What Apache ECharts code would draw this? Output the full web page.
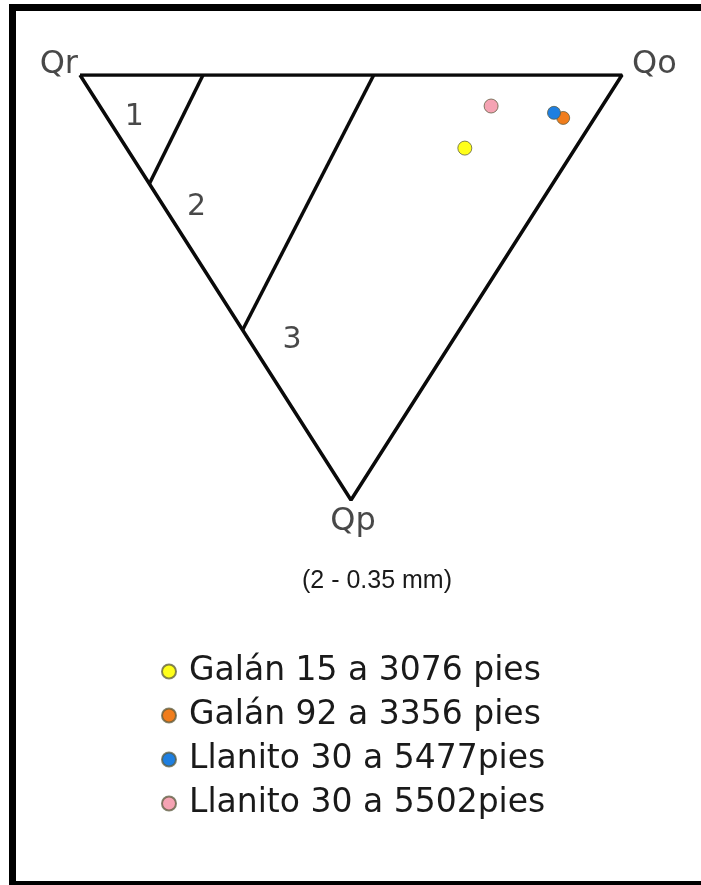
<!DOCTYPE html>
<html>
<head>
<meta charset="utf-8">
<script src="https://cdn.jsdelivr.net/npm/echarts@6/dist/echarts.min.js"></script>
<style>
  html, body { margin: 0; padding: 0; background: #fff; }
  #chart { width: 701px; height: 885px; }
</style>
</head>
<body>
<div id="chart"></div>
<script>
// Ternary components are given as [Qr, Qo, Qp] in percent.
const vertexNames = ['Qr', 'Qo', 'Qp'];
const vertices = [[100, 0, 0], [0, 100, 0], [0, 0, 100]];

// Field boundaries inside the diagram
const fieldLineA = [[77.3, 22.7, 0], [74.4, 0, 25.6]];
const fieldLineB = [[45.8, 54.2, 0], [40.0, 0, 60.0]];

// Field numbers and where they sit
const fieldNames = ['1', '2', '3'];
const fieldPos = [[85.0, 5.0, 10.0], [63.0, 6.0, 31.0], [29.7, 7.9, 62.4]];

// Samples
const sampleNames = [
  'Galán 15 a 3076 pies',
  'Galán 92 a 3356 pies',
  'Llanito 30 a 5477pies',
  'Llanito 30 a 5502pies'
];
const sampleQr = [20.4, 5.8, 8.1, 20.5];
const sampleQo = [62.4, 84.1, 83.0, 72.2];
const sampleQp = [17.2, 10.1, 8.9, 7.3];
const sampleColors = ['#ffff1a', '#f07d1c', '#1f7fe0', '#f5a3b3'];
const sampleSizes = [14, 13, 13, 14];

const sizeLabel = '(2 - 0.35 mm)';

// Ternary -> cartesian (x across the top edge, y downward towards Qp)
function toXY(t) {
  const s = t[0] + t[1] + t[2];
  const qo = t[1] / s * 100, qp = t[2] / s * 100;
  return [qo + qp / 2, qp];
}

const lineStyle = { color: '#0a0a0a', width: 3.5 };
const series = [];

series.push({
  type: 'line', name: 'outline', data: vertices.concat([vertices[0]]).map(toXY),
  symbol: 'none', lineStyle: lineStyle, silent: true, z: 2, animation: false
});
[fieldLineA, fieldLineB].forEach(function (seg, i) {
  series.push({
    type: 'line', name: 'field' + i, data: seg.map(toXY),
    symbol: 'none', lineStyle: lineStyle, silent: true, z: 2, animation: false
  });
});

// Vertex names
const vLabelCfg = [
  { position: 'left', distance: 2, offset: [0, -10] },
  { position: 'right', distance: 10, offset: [0, -10] },
  { position: 'bottom', distance: 6, offset: [2, 0] }
];
series.push({
  type: 'scatter', name: 'vertices', symbolSize: 0, silent: true, animation: false,
  data: vertices.map(function (v, i) {
    return {
      value: toXY(v), name: vertexNames[i],
      label: Object.assign({
        show: true, formatter: '{b}', color: '#1a1a1a',
        fontFamily: 'DejaVu Sans', fontSize: 32
      }, vLabelCfg[i])
    };
  })
});

// Field numbers
series.push({
  type: 'scatter', name: 'fields', symbolSize: 0, silent: true, animation: false,
  data: fieldPos.map(function (p, i) {
    return {
      value: toXY(p), name: fieldNames[i],
      label: {
        show: true, position: 'inside', formatter: '{b}', color: '#1a1a1a',
        fontFamily: 'DejaVu Sans', fontSize: 30
      }
    };
  })
});

// Sample points
sampleNames.forEach(function (name, i) {
  series.push({
    type: 'scatter', name: name, symbol: 'circle', symbolSize: sampleSizes[i],
    data: [toXY([sampleQr[i], sampleQo[i], sampleQp[i]])],
    itemStyle: { color: sampleColors[i], borderColor: 'rgba(90,90,60,0.75)', borderWidth: 1, opacity: 1 },
    z: 5 + i, animation: false
  });
});

const chart = echarts.init(document.getElementById('chart'));
chart.setOption({
  backgroundColor: '#fff',
  animation: false,
  grid: { left: 80, top: 75, width: 542, height: 425 },
  xAxis: { type: 'value', min: 0, max: 100, show: false },
  yAxis: { type: 'value', min: 0, max: 100, inverse: true, show: false },
  title: {
    text: sizeLabel, left: 297, top: 564,
    textStyle: { fontFamily: 'Liberation Sans', fontSize: 25, fontWeight: 'normal', color: '#1a1a1a' }
  },
  legend: {
    data: sampleNames, orient: 'vertical', left: 156, top: 650,
    icon: 'circle', itemWidth: 14, itemHeight: 14, itemGap: 11,
    formatter: function (n) { return '{t|' + n + '}'; },
    textStyle: {
      color: '#1a1a1a', fontFamily: 'DejaVu Sans', fontSize: 33,
      rich: { t: { fontFamily: 'DejaVu Sans', fontSize: 33, color: '#1a1a1a', lineHeight: 36, padding: [0, 0, 0, 8] } }
    }
  },
  graphic: [{
    type: 'rect', silent: true, z: 100,
    shape: { x: 12.5, y: 7.5, width: 760, height: 877 },
    style: { fill: 'none', stroke: '#000', lineWidth: 7 }
  }],
  series: series
});
</script>
</body>
</html>
